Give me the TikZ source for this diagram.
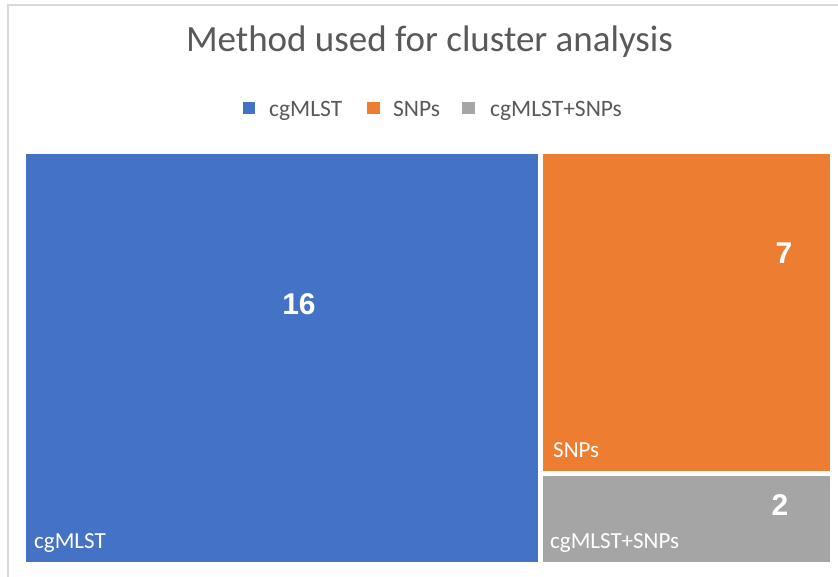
\documentclass[tikz,border=0pt]{standalone}
\usepackage{fontspec}
\setmainfont{Carlito}
\newfontfamily\numfont{Liberation Sans}
\definecolor{tmblue}{HTML}{4472C4}
\definecolor{tmorange}{HTML}{ED7D31}
\definecolor{tmgray}{HTML}{A5A5A5}
\definecolor{txtgray}{HTML}{595959}
\definecolor{framegray}{HTML}{D9D9D9}
\tikzset{
  tile/.style={draw=none, inner sep=0pt, outer sep=0pt},
  titletext/.style={text=txtgray, inner sep=0pt, anchor=base, font=\fontsize{37}{44}\selectfont},
  legtext/.style={text=txtgray, inner sep=0pt, anchor=base west, font=\fontsize{23.5}{28}\selectfont},
  legkey/.style={inner sep=0pt, minimum size=12.5pt},
  catlabel/.style={text=white, inner sep=0pt, anchor=base west, font=\fontsize{23}{28}\selectfont},
  valuelabel/.style={text=white, inner sep=0pt, anchor=base, font=\numfont\bfseries\fontsize{30}{36}\selectfont}
}
\begin{document}
\begin{tikzpicture}[x=1pt, y=-1pt]
  \useasboundingbox (0,0) rectangle (838,577);
  \fill[white] (0,0) rectangle (838,577);
  % chart frame (open at right and bottom)
  \draw[framegray, line width=1.5pt] (8,577) -- (8,5) -- (838,5);

  % title
  \node[titletext] (title) at (429.5,52) {Method used for cluster analysis};

  % legend
  \node[legkey, fill=tmblue]   (k1) at (249,108) {};
  \node[legtext] (l1) at (269,117) {cgMLST};
  \node[legkey, fill=tmorange] (k2) at (373.5,108) {};
  \node[legtext] (l2) at (393,117) {SNPs};
  \node[legkey, fill=tmgray]   (k3) at (468.5,108) {};
  \node[legtext] (l3) at (490,117) {cgMLST+SNPs};

  % treemap tiles
  \fill[tmblue]   (26,154) rectangle (538,562);
  \fill[tmorange] (543,154) rectangle (830,471);
  \fill[tmgray]   (543,476) rectangle (830,562);

  % values
  \node[valuelabel] (v1) at (299,315) {16};
  \node[valuelabel] (v2) at (784,264) {7};
  \node[valuelabel] (v3) at (780,515) {2};

  % category names
  \node[catlabel] (c1) at (34,548) {cgMLST};
  \node[catlabel] (c2) at (553,457) {SNPs};
  \node[catlabel] (c3) at (550,548) {cgMLST+SNPs};
\end{tikzpicture}
\end{document}
